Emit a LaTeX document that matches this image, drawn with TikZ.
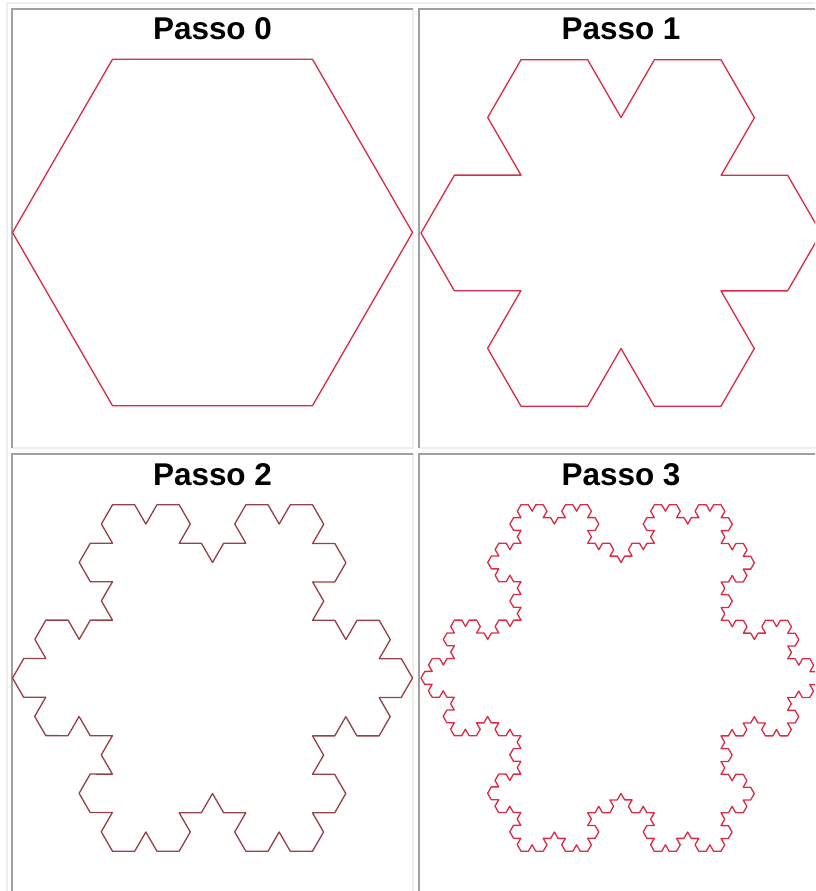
\documentclass[tikz,border=0pt]{standalone}
\usepackage{fontspec}
\setmainfont{Liberation Sans}
\usepackage{tikz}
\usetikzlibrary{decorations.fractals}
\definecolor{kochred}{RGB}{218,44,72}
\definecolor{kochdark}{RGB}{150,64,72}
\definecolor{celldark}{RGB}{160,160,160}
\definecolor{celllight}{RGB}{238,238,238}

\begin{document}
\begin{tikzpicture}[
  title/.style={font=\fontsize{17.9}{20}\selectfont\bfseries,anchor=base,inner sep=0pt},
  lo/.style={draw=celllight,line width=1.1pt},
  hi/.style={draw=celldark,line width=1.1pt},
  koch/.style={line width=0.75pt,line join=round,line cap=round,decoration=Koch snowflake}
]
  \useasboundingbox (0,0) rectangle (16.30,-17.82);
  \clip (0,0) rectangle (16.30,-17.82);

  % table frame
  \draw[lo] (0.14,-17.90) -- (0.14,-0.06) -- (16.40,-0.06);
  % cells: light bottom/right, dark top/left
  \draw[lo] (0.24,-8.96) -- (8.26,-8.96) -- (8.26,-0.18);
  \draw[lo] (8.38,-8.96) -- (16.40,-8.96) -- (16.40,-0.18);
  \draw[lo] (0.24,-17.86) -- (8.26,-17.86) -- (8.26,-9.08);
  \draw[lo] (8.38,-17.86) -- (16.40,-17.86) -- (16.40,-9.08);
  \draw[hi] (0.24,-8.96) -- (0.24,-0.18) -- (8.26,-0.18);
  \draw[hi] (8.38,-8.96) -- (8.38,-0.18) -- (16.40,-0.18);
  \draw[hi] (0.24,-17.86) -- (0.24,-9.08) -- (8.26,-9.08);
  \draw[hi] (8.38,-17.86) -- (8.38,-9.08) -- (16.40,-9.08);

  \node[title] (p0) at (4.25,-0.80) {Passo 0};
  \node[title] (p1) at (12.42,-0.80) {Passo 1};
  \node[title] (p2) at (4.25,-9.70) {Passo 2};
  \node[title] (p3) at (12.42,-9.70) {Passo 3};

  \coordinate (h0) at (4.25,-4.65);
  \coordinate (h1) at (12.42,-4.66);
  \coordinate (h2) at (4.25,-13.56);
  \coordinate (h3) at (12.42,-13.56);

  % each side run counterclockwise, so every bump turns inward
  \draw[koch,kochred,shift={(h0)}]
    (0:4) -- (60:4) -- (120:4) -- (180:4) -- (240:4) -- (300:4) -- cycle;
  \foreach \a in {0,60,...,300} {
    \draw[koch,kochred,shift={(h1)}] decorate{(\a:4) -- (\a+60:4)};
    \draw[koch,kochdark,shift={(h2)}] decorate{decorate{(\a:4) -- (\a+60:4)}};
    \draw[koch,kochred,shift={(h3)}] decorate{decorate{decorate{(\a:4) -- (\a+60:4)}}};
  }
\end{tikzpicture}
\end{document}
